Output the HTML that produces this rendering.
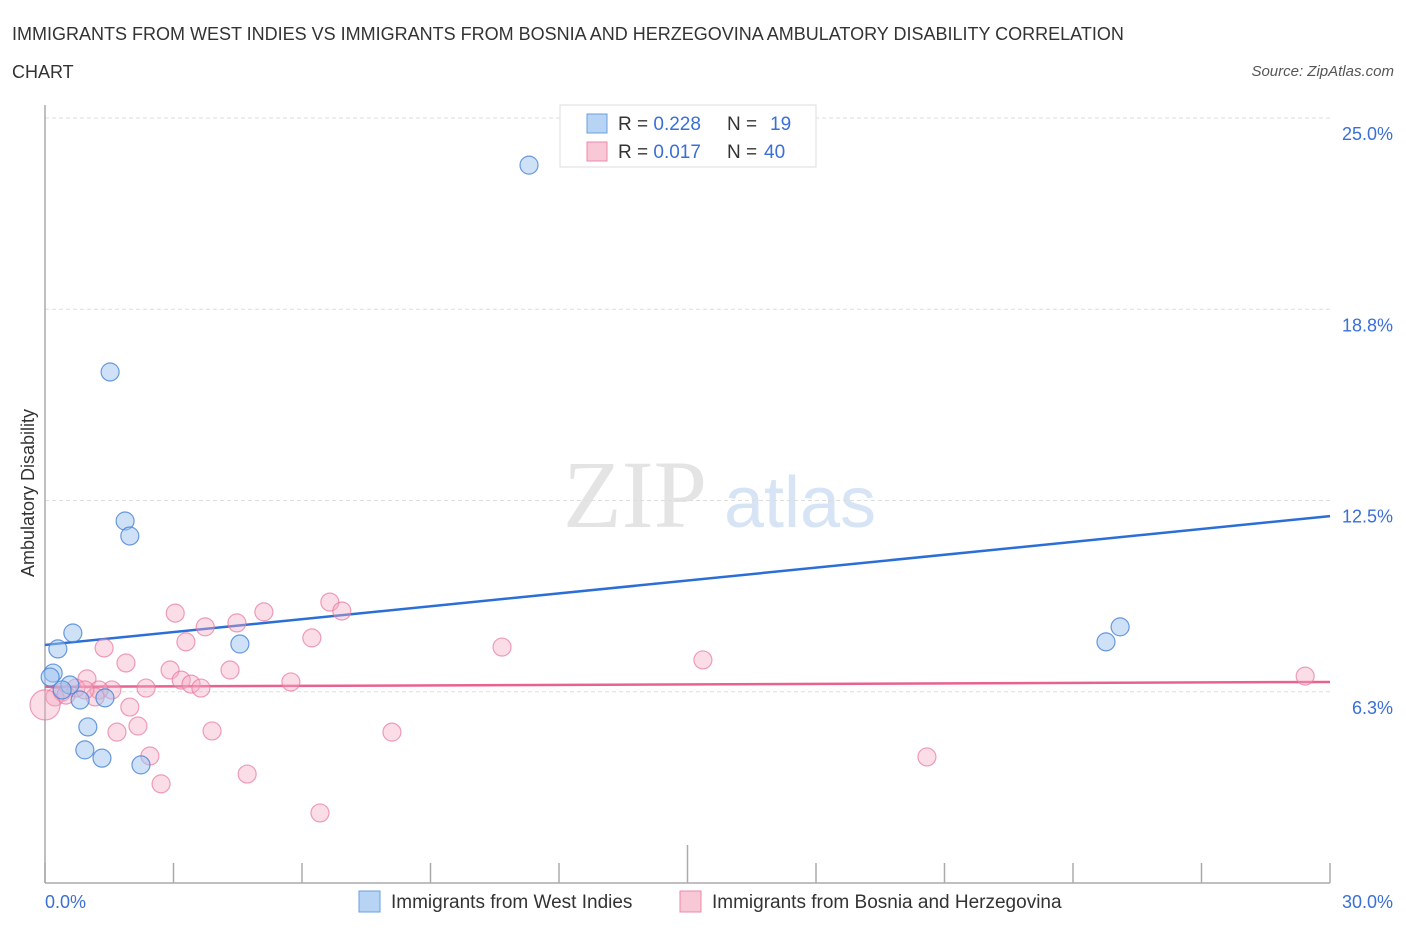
<!DOCTYPE html>
<html><head><meta charset="utf-8"><style>
body{margin:0;background:#fff;font-family:"Liberation Sans",sans-serif;}
</style></head><body>
<svg width="1406" height="930" viewBox="0 0 1406 930" xmlns="http://www.w3.org/2000/svg">
<text x="12" y="40" font-size="18" fill="#333">IMMIGRANTS FROM WEST INDIES VS IMMIGRANTS FROM BOSNIA AND HERZEGOVINA AMBULATORY DISABILITY CORRELATION</text>
<text x="12" y="78" font-size="18" fill="#333">CHART</text>
<text x="1394" y="76" font-size="15" fill="#555" font-style="italic" text-anchor="end">Source: ZipAtlas.com</text>
<text x="635" y="527" font-size="96" fill="#e4e4e4" font-family="Liberation Serif,serif" text-anchor="middle">ZIP</text>
<text x="800" y="527" font-size="72" fill="#d6e4f6" text-anchor="middle">atlas</text>
<g id="grid"></g>
<g id="axes"></g>
<g id="trends"></g>
<g id="pts"></g>
<text x="34" y="493" font-size="18" fill="#333" text-anchor="middle" transform="rotate(-90 34 493)">Ambulatory Disability</text>
<text x="45" y="908" font-size="18" fill="#3a6fd8">0.0%</text>
<text x="1393" y="908" font-size="18" fill="#3a6fd8" text-anchor="end">30.0%</text>
<g>
<rect x="560" y="105" width="256" height="62" fill="#fff" stroke="#ddd"/>
<rect x="587" y="114" width="20" height="19" fill="#b8d4f4" stroke="#6a9fe0"/>
<rect x="587" y="142" width="20" height="19" fill="#f8c8d6" stroke="#ec8aa8"/>
<text x="618" y="130" font-size="19" fill="#333">R = <tspan fill="#3a6fd8">0.228</tspan><tspan x="727">N = </tspan><tspan x="770" fill="#3a6fd8">19</tspan></text>
<text x="618" y="158" font-size="19" fill="#333">R = <tspan fill="#3a6fd8">0.017</tspan><tspan x="727">N = </tspan><tspan x="764" fill="#3a6fd8">40</tspan></text>
</g>
<g>
<rect x="359" y="891" width="21" height="21" fill="#b8d4f4" stroke="#6a9fe0"/>
<text x="391" y="908" font-size="19" fill="#333">Immigrants from West Indies</text>
<rect x="680" y="891" width="21" height="21" fill="#f8c8d6" stroke="#ec8aa8"/>
<text x="712" y="908" font-size="19" fill="#333">Immigrants from Bosnia and Herzegovina</text>
</g>
</svg>
<script>
const yTicks=[25.0,18.75,12.5,6.25];
const yTickLabels=["25.0%","18.8%","12.5%","6.3%"];
const xTicks=[0,3,6,9,12,15,18,21,24,27,30];
const blueX=[11.30,1.52,1.87,1.98,0.65,0.30,4.55,0.19,0.12,0.58,0.40,0.82,1.40,1.00,0.93,1.33,2.24,24.77,25.10];
const blueY=[23.46,16.70,11.83,11.34,8.17,7.65,7.81,6.86,6.73,6.47,6.31,5.98,6.05,5.10,4.35,4.08,3.86,7.88,8.37];
const pinkX=[3.04,5.11,6.65,6.93,4.48,3.74,3.29,6.23,1.38,1.89,2.92,4.32,0.98,3.18,3.41,3.64,2.36,5.74,1.56,1.26,0.72,0.40,0.23,1.98,2.17,1.68,3.90,2.45,2.71,4.72,6.42,8.10,10.67,15.36,20.59,29.42,1.17,0.49,0.0,0.93];
const pinkY=[8.82,8.86,9.18,8.89,8.50,8.37,7.88,8.01,7.68,7.19,6.96,6.96,6.67,6.63,6.50,6.37,6.37,6.57,6.31,6.31,6.37,6.24,6.08,5.75,5.13,4.93,4.97,4.15,3.24,3.56,2.29,4.93,7.71,7.29,4.12,6.76,6.08,6.14,5.82,6.31];
const blueTrend=[7.78,11.99];
const pinkTrend=[6.41,6.57];
const NS="http://www.w3.org/2000/svg";
const sx=v=>45+v/30*1285;
const sy=v=>883-v/25*765;
function mk(t,a,p){const e=document.createElementNS(NS,t);for(const k in a)e.setAttribute(k,a[k]);p.appendChild(e);return e;}
const grid=document.getElementById('grid');
yTicks.forEach((t,i)=>{
 const l=mk('line',{x1:45,x2:1330,y1:sy(t),y2:sy(t),stroke:'#ddd','stroke-dasharray':'4 3'},grid);
 
 
 const tx=mk('text',{x:1393,y:sy(t)+22,'font-size':18,fill:'#3a6fd8','text-anchor':'end'},grid);
 tx.textContent=yTickLabels[i];
 
 
});
const axes=document.getElementById('axes');
let a=mk('line',{x1:45,x2:45,y1:105,y2:883,stroke:'#aaa','stroke-width':1.5},axes);


a=mk('line',{x1:45,x2:1330,y1:883,y2:883,stroke:'#aaa','stroke-width':1.5},axes);


xTicks.forEach((t,i)=>{
 const l=mk('line',{x1:sx(t),x2:sx(t),y1:i==5?845:863,y2:883,stroke:'#aaa','stroke-width':1.5},axes);
 
 
});
const tr=document.getElementById('trends');
let t1=mk('line',{x1:sx(0),x2:sx(30),y1:sy(blueTrend[0]),y2:sy(blueTrend[1]),stroke:'#2b6fd6','stroke-width':2.5},tr);


let t2=mk('line',{x1:sx(0),x2:sx(30),y1:sy(pinkTrend[0]),y2:sy(pinkTrend[1]),stroke:'#e8628e','stroke-width':2.5},tr);


const pts=document.getElementById('pts');
pinkX.forEach((x,i)=>{
 const c=mk('circle',{cx:sx(x),cy:sy(pinkY[i]),r:(x===0?15:9),fill:'rgba(245,170,195,0.4)',stroke:'rgba(232,120,155,0.7)','stroke-width':1.2},pts);
 
 
});
blueX.forEach((x,i)=>{
 const c=mk('circle',{cx:sx(x),cy:sy(blueY[i]),r:9,fill:'rgba(160,195,240,0.5)',stroke:'rgba(70,130,215,0.8)','stroke-width':1.2},pts);
 
 
});
</script>
</body></html>
